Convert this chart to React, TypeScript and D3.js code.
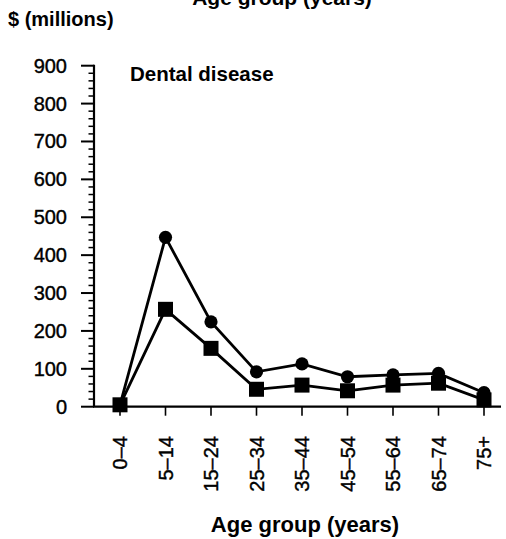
import React, { useEffect, useRef } from "react";
import * as d3 from "d3";

const categories = ["0–4", "5–14", "15–24", "25–34", "35–44", "45–54", "55–64", "65–74", "75+"];
const circleSeries = [5, 447, 224, 92, 113, 79, 84, 88, 37];
const squareSeries = [5, 257, 154, 46, 57, 42, 57, 62, 18];
const yMajorTicks = [0, 100, 200, 300, 400, 500, 600, 700, 800, 900];
const yMinorTicks = d3.range(0, 901, 20);

const W = 506;
const H = 539;
const FONT = "'Liberation Sans', Arial, Helvetica, sans-serif";

export default function App() {
  const ref = useRef<SVGSVGElement | null>(null);

  useEffect(() => {
    document.body.style.margin = "0";
    const svg = d3.select(ref.current);
    svg.selectAll("*").remove();

    const axisX = 94;
    const y = d3.scaleLinear().domain([0, 900]).range([406.7, 65.7]);
    const x = d3.scalePoint<string>().domain(categories).range([120, 484]);
    const y0 = y(0);

    const g = svg.append("g");

    // Y axis line
    g.append("line")
      .attr("x1", axisX).attr("x2", axisX)
      .attr("y1", y(900) - 1).attr("y2", y0)
      .attr("stroke", "#000").attr("stroke-width", 2.2);

    // minor ticks
    g.selectAll("line.minor")
      .data(yMinorTicks.filter((v) => v % 100 !== 0))
      .enter().append("line")
      .attr("x1", axisX - 5.5).attr("x2", axisX)
      .attr("y1", (d) => y(d)).attr("y2", (d) => y(d))
      .attr("stroke", "#000").attr("stroke-width", 1.5);

    // major ticks
    g.selectAll("line.major")
      .data(yMajorTicks)
      .enter().append("line")
      .attr("x1", axisX - 13).attr("x2", axisX)
      .attr("y1", (d) => y(d)).attr("y2", (d) => y(d))
      .attr("stroke", "#000").attr("stroke-width", 2);

    g.selectAll("text.ylab")
      .data(yMajorTicks)
      .enter().append("text")
      .attr("x", 67).attr("y", (d) => y(d))
      .attr("text-anchor", "end")
      .attr("dominant-baseline", "central")
      .attr("font-family", FONT).attr("font-size", 20)
      .attr("fill", "#000").attr("stroke", "#000").attr("stroke-width", 0.4)
      .text((d) => String(d));

    // X axis
    g.append("line")
      .attr("x1", axisX - 1).attr("x2", 501)
      .attr("y1", y0).attr("y2", y0)
      .attr("stroke", "#000").attr("stroke-width", 2.2);

    g.selectAll("line.xtick")
      .data(categories)
      .enter().append("line")
      .attr("x1", (d) => x(d)!).attr("x2", (d) => x(d)!)
      .attr("y1", y0).attr("y2", y0 + 9)
      .attr("stroke", "#000").attr("stroke-width", 1.6);

    g.selectAll("text.xlab")
      .data(categories)
      .enter().append("text")
      .attr("transform", (d) => `translate(${x(d)},436) rotate(-90)`)
      .attr("text-anchor", "end")
      .attr("dominant-baseline", "central")
      .attr("font-family", FONT).attr("font-size", 20)
      .attr("fill", "#000").attr("stroke", "#000").attr("stroke-width", 0.4)
      .text((d) => d);

    // Lines
    const lineGen = (vals: number[]) =>
      d3.line<number>().x((_, i) => x(categories[i])!).y((v) => y(v))(vals);

    g.append("path").attr("d", lineGen(circleSeries)!)
      .attr("fill", "none").attr("stroke", "#000").attr("stroke-width", 2.8);
    g.append("path").attr("d", lineGen(squareSeries)!)
      .attr("fill", "none").attr("stroke", "#000").attr("stroke-width", 2.8);

    g.selectAll("circle.pt")
      .data(circleSeries)
      .enter().append("circle")
      .attr("cx", (_, i) => x(categories[i])!)
      .attr("cy", (v) => y(v))
      .attr("r", 6.6)
      .attr("fill", "#000");

    const s = 15;
    g.selectAll("rect.pt")
      .data(squareSeries)
      .enter().append("rect")
      .attr("x", (_, i) => x(categories[i])! - s / 2)
      .attr("y", (v) => y(v) - s / 2)
      .attr("width", s).attr("height", s)
      .attr("fill", "#000");

    // Texts
    g.append("text").attr("x", 282).attr("y", 5)
      .attr("text-anchor", "middle")
      .attr("font-family", FONT).attr("font-size", 21).attr("font-weight", "bold")
      .text("Age group (years)");

    g.append("text").attr("x", 8).attr("y", 26)
      .attr("font-family", FONT).attr("font-size", 20).attr("font-weight", "bold")
      .text("$ (millions)");

    g.append("text").attr("x", 130).attr("y", 81)
      .attr("font-family", FONT).attr("font-size", 20.5).attr("font-weight", "bold")
      .text("Dental disease");

    g.append("text").attr("x", 305).attr("y", 532)
      .attr("text-anchor", "middle")
      .attr("font-family", FONT).attr("font-size", 22).attr("font-weight", "bold")
      .text("Age group (years)");
  }, []);

  return (
    <svg
      ref={ref}
      width={W}
      height={H}
      style={{ position: "absolute", left: 0, top: 0, background: "#fff" }}
    />
  );
}
